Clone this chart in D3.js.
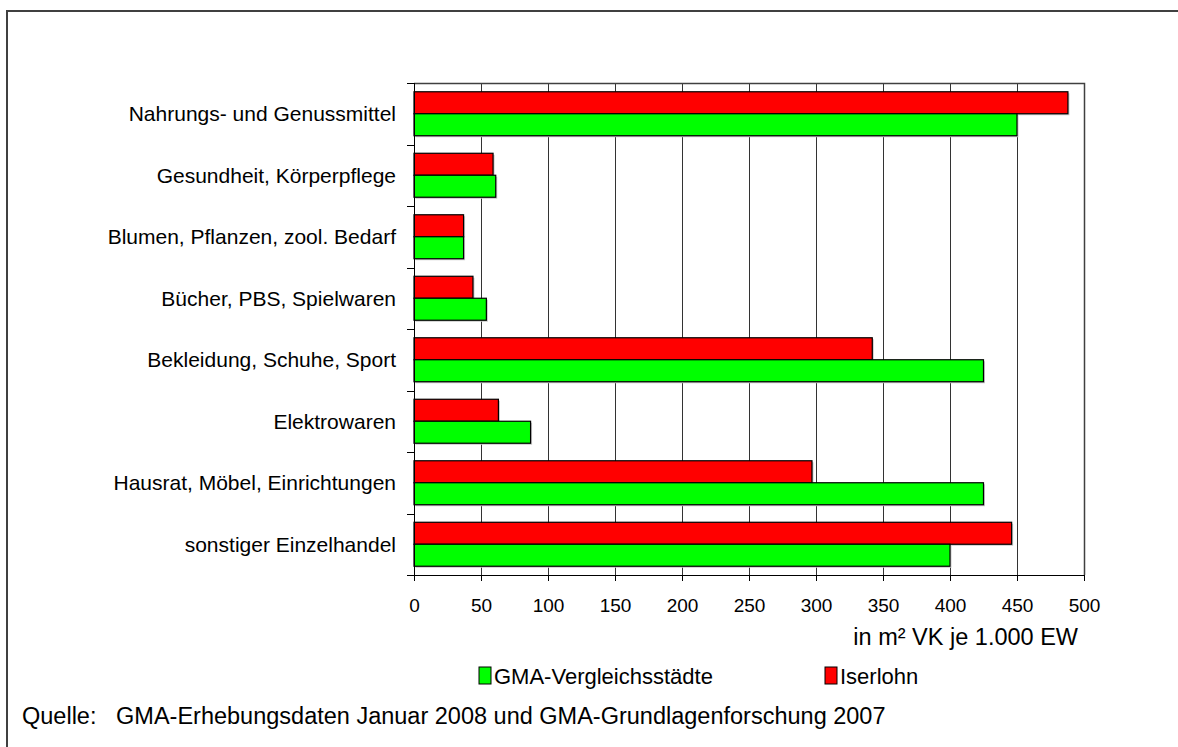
<!DOCTYPE html>
<html lang="de">
<head>
<meta charset="utf-8">
<title>Verkaufsflächenausstattung Iserlohn</title>
<script src="https://cdn.jsdelivr.net/npm/d3@7"></script>
<style>
  body { margin: 0; background: #fff; }
  svg { font-family: Arial, "Liberation Sans", sans-serif; }
  .grid line { stroke: #333; stroke-width: 1px; shape-rendering: crispEdges; }
  .axis path, .axis line { stroke: #000; shape-rendering: crispEdges; }
</style>
</head>
<body>
<div id="chart"></div>
<script>
  // Werte in m² VK je 1.000 EW
  var categories = [
    "Nahrungs- und Genussmittel",
    "Gesundheit, Körperpflege",
    "Blumen, Pflanzen, zool. Bedarf",
    "Bücher, PBS, Spielwaren",
    "Bekleidung, Schuhe, Sport",
    "Elektrowaren",
    "Hausrat, Möbel, Einrichtungen",
    "sonstiger Einzelhandel"
  ];
  var iserlohn = [488, 59, 37, 44, 342, 63, 297, 446];
  var vergleich = [450, 61, 37, 54, 425, 87, 425, 400];
  var xTicks = [0, 50, 100, 150, 200, 250, 300, 350, 400, 450, 500];
  var seriesNames = ["Iserlohn", "GMA-Vergleichsstädte"];
  var seriesColors = ["#ff0000", "#00ff00"];

  var W = 1178, H = 747;
  var plot = {left: 414, right: 1084, top: 83, bottom: 575};

  var svg = d3.select("#chart").append("svg")
      .attr("width", W)
      .attr("height", H);

  // outer frame (runs off to the right and bottom)
  svg.append("path")
      .attr("d", "M7," + (H + 5) + "V11H" + (W + 5))
      .attr("fill", "none")
      .attr("stroke", "#404040")
      .attr("stroke-width", 2);

  var x = d3.scaleLinear()
      .domain([0, 500])
      .range([plot.left, plot.right]);

  var y = d3.scaleBand()
      .domain(categories)
      .range([plot.top, plot.bottom])
      .paddingInner(0.285)
      .paddingOuter(0.1425);

  var ySub = d3.scaleBand()
      .domain(seriesNames)
      .range([0, y.bandwidth()]);

  var color = d3.scaleOrdinal().domain(seriesNames).range(seriesColors);

  // gridlines
  svg.append("g")
      .attr("class", "grid")
    .selectAll("line")
    .data(xTicks.slice(1))
    .enter().append("line")
      .attr("x1", function(d) { return Math.round(x(d)) + 0.5; })
      .attr("x2", function(d) { return Math.round(x(d)) + 0.5; })
      .attr("y1", plot.top)
      .attr("y2", plot.bottom);

  // top and right border of plot area
  svg.append("path")
      .attr("d", "M" + plot.left + "," + (plot.top + 0.5) + "H" + (plot.right + 0.5) + "V" + plot.bottom)
      .attr("fill", "none")
      .attr("stroke", "#404040")
      .attr("stroke-width", 1.5);

  var rows = categories.map(function(c, i) {
    return {cat: c, values: [
      {name: seriesNames[0], v: iserlohn[i]},
      {name: seriesNames[1], v: vergleich[i]}
    ]};
  });

  var groups = svg.append("g").selectAll("g")
      .data(rows)
      .enter().append("g")
      .attr("transform", function(d) { return "translate(0," + y(d.cat) + ")"; });

  // light shadow
  groups.selectAll("rect.shadow")
      .data(function(d) { return d.values; })
      .enter().append("rect")
      .attr("class", "shadow")
      .attr("x", x(0) + 1.5)
      .attr("y", function(d) { return ySub(d.name) + 1.5; })
      .attr("width", function(d) { return x(d.v) - x(0); })
      .attr("height", ySub.bandwidth())
      .attr("fill", "#c8c8c8");

  groups.selectAll("rect.bar")
      .data(function(d) { return d.values; })
      .enter().append("rect")
      .attr("class", "bar")
      .attr("x", x(0))
      .attr("y", function(d) { return ySub(d.name); })
      .attr("width", function(d) { return x(d.v) - x(0); })
      .attr("height", ySub.bandwidth())
      .attr("fill", function(d) { return color(d.name); })
      .attr("stroke", "#000")
      .attr("stroke-width", 1.2);

  // x axis
  var xAxis = d3.axisBottom(x).tickValues(xTicks).tickSize(6).tickSizeOuter(0).tickPadding(18);
  var gx = svg.append("g")
      .attr("class", "axis")
      .attr("transform", "translate(0," + plot.bottom + ")")
      .call(xAxis);
  gx.selectAll("text").attr("font-size", 19).attr("fill", "#000");

  // y axis: ticks at category boundaries, labels at band centers
  var step = y.step();
  var bounds = d3.range(categories.length + 1).map(function(i) { return plot.top + i * step; });
  var gy = svg.append("g").attr("class", "axis");
  gy.append("line")
      .attr("x1", plot.left + 0.5).attr("x2", plot.left + 0.5)
      .attr("y1", plot.top).attr("y2", plot.bottom + 6);
  gy.selectAll("line.tick")
      .data(bounds)
      .enter().append("line")
      .attr("class", "tick")
      .attr("x1", plot.left - 7).attr("x2", plot.left)
      .attr("y1", function(d) { return Math.round(d) + 0.5; })
      .attr("y2", function(d) { return Math.round(d) + 0.5; });
  gy.selectAll("text")
      .data(categories)
      .enter().append("text")
      .attr("x", plot.left - 18)
      .attr("y", function(d) { return y(d) + y.bandwidth() / 2; })
      .attr("dy", "0.35em")
      .attr("text-anchor", "end")
      .attr("font-size", 21)
      .text(function(d) { return d; });

  // axis unit
  svg.append("text")
      .attr("x", 1078)
      .attr("y", 645)
      .attr("text-anchor", "end")
      .attr("font-size", 23.5)
      .text("in m² VK je 1.000 EW");

  // legend
  var legendItems = [
    {name: "GMA-Vergleichsstädte", x: 479},
    {name: "Iserlohn", x: 825}
  ];
  var lg = svg.append("g").selectAll("g")
      .data(legendItems)
      .enter().append("g")
      .attr("transform", function(d) { return "translate(" + d.x + ",667)"; });
  lg.append("rect")
      .attr("width", 12).attr("height", 17)
      .attr("fill", function(d) { return color(d.name); })
      .attr("stroke", "#000");
  lg.append("text")
      .attr("x", 15)
      .attr("y", 17)
      .attr("font-size", 22)
      .text(function(d) { return d.name; });

  // source
  svg.append("text")
      .attr("x", 22)
      .attr("y", 724)
      .attr("font-size", 23.5)
      .attr("xml:space", "preserve")
      .text("Quelle:   GMA-Erhebungsdaten Januar 2008 und GMA-Grundlagenforschung 2007");
</script>
</body>
</html>
